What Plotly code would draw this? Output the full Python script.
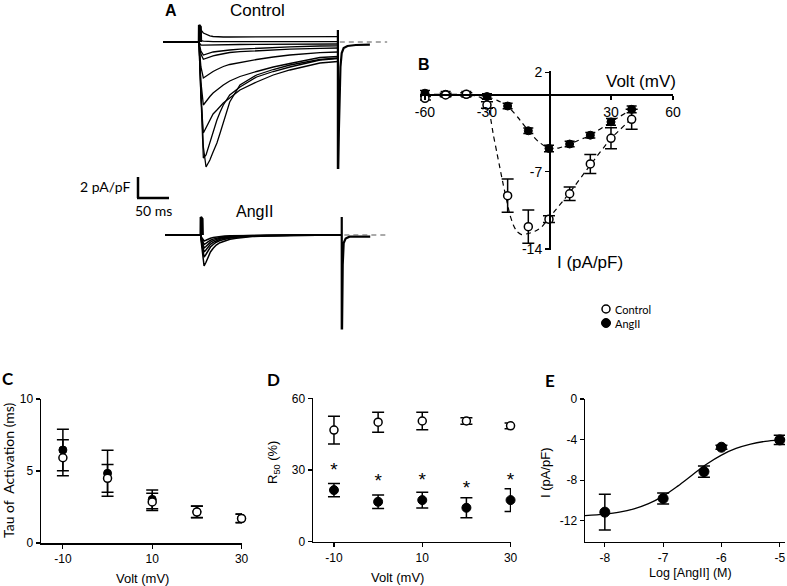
import plotly.graph_objects as go

W, H = 787, 586
ARIAL = "Liberation Sans, Arial, sans-serif"
CAL = "Lato, Carlito, Calibri, sans-serif"

# ---------------- Panel A: whole-cell current traces (ms, pA/pF) ----------------
ctrl_t = [-56, 0, 1, 3, 6.8, 11, 17, 22, 28, 33, 38, 48, 64, 90, 116, 142, 189, 217]
ctrl_traces = [
    [0, 0, 1.5, 1.2, 0.9, 0.75, 0.62, 0.55, 0.52, 0.5, 0.5, 0.5, 0.5, 0.5, 0.5, 0.52, 0.53, 0.53],
    [0, 0, 0.3, 0.15, 0.08, 0.05, 0.04, 0.03, 0.03, 0.03, 0.03, 0.03, 0.03, 0.03, 0.03, 0.03, 0.03, 0.03],
    [0, 0, -0.15, -0.3, -0.32, -0.32, -0.3, -0.3, -0.29, -0.28, -0.27, -0.26, -0.25, -0.23, -0.22, -0.21, -0.2, -0.2],
    [0, 0, -0.4, -0.9, -1.3, -1.2, -1.08, -1.0, -0.95, -0.9, -0.87, -0.8, -0.72, -0.63, -0.55, -0.48, -0.4, -0.38],
    [0, 0, -0.5, -1.2, -1.73, -1.62, -1.48, -1.38, -1.3, -1.22, -1.15, -1.05, -0.97, -0.87, -0.78, -0.72, -0.63, -0.6],
    [0, 0, -1.0, -2.5, -3.6, -3.4, -3.15, -2.95, -2.75, -2.6, -2.45, -2.25, -2.05, -1.75, -1.5, -1.3, -1.07, -1.0],
    [0, 0, -1.5, -4.0, -6.3, -5.9, -5.45, -5.1, -4.8, -4.5, -4.3, -3.9, -3.45, -2.95, -2.5, -2.15, -1.55, -1.45],
    [0, 0, -2.0, -5.5, -9.1, -8.6, -7.8, -7.2, -6.8, -6.4, -6.1, -5.6, -4.8, -4.0, -3.3, -2.8, -2.1, -1.95],
    [0, 0, -2.0, -6.0, -11.6, -11.3, -10.1, -8.9, -7.8, -7.0, -6.3, -5.3, -4.5, -3.5, -2.95, -2.5, -1.8, -1.65],
    [0, 0, -1.5, -5.0, -10.5, -12.5, -11.8, -11.0, -10.1, -9.1, -8.0, -6.0, -4.3, -3.3, -2.75, -2.3, -1.75, -1.6],
]
ctrl_on_t = [0, 0.2, 2.5, 3]
ctrl_on_v = [0, 1.7, 1.5, 0]
ctrl_off_t = [217, 217, 217.6, 218.5, 219.5, 221, 223, 226, 232, 245, 267]
ctrl_off_v = [1.2, -12.6, -12.6, -9, -5, -2.5, -1.1, -0.6, -0.4, -0.3, -0.27]
ctrl_ref_t = [220, 294]
ctrl_ref_v = [0, 0]

ang_t = [-55, 0, 1, 3, 5.2, 8, 11.5, 15, 19.3, 24, 29.7, 37, 45.3, 55, 66, 80, 102.6, 140, 218]
ang_traces = [
    [0, 0, -0.8, -2.2, -3.1, -2.75, -2.17, -1.7, -1.33, -1.0, -0.77, -0.58, -0.43, -0.32, -0.23, -0.16, -0.1, -0.04, 0],
    [0, 0, -0.6, -1.6, -2.2, -1.95, -1.55, -1.2, -0.95, -0.72, -0.55, -0.41, -0.31, -0.23, -0.16, -0.11, -0.07, -0.03, 0],
    [0, 0, -0.5, -1.25, -1.7, -1.5, -1.2, -0.93, -0.73, -0.56, -0.42, -0.32, -0.24, -0.18, -0.13, -0.09, -0.05, -0.02, 0],
    [0, 0, -0.4, -0.95, -1.3, -1.15, -0.92, -0.71, -0.56, -0.43, -0.33, -0.25, -0.18, -0.14, -0.1, -0.07, -0.04, -0.02, 0],
    [0, 0, -0.3, -0.7, -0.95, -0.84, -0.67, -0.52, -0.41, -0.31, -0.24, -0.18, -0.13, -0.1, -0.07, -0.05, -0.03, -0.01, 0],
    [0, 0, -0.2, -0.45, -0.6, -0.53, -0.42, -0.33, -0.26, -0.2, -0.15, -0.11, -0.08, -0.06, -0.05, -0.03, -0.02, -0.01, 0],
]
ang_on_t = [0, 0.2, 2.5, 3]
ang_on_v = [0, 1.8, 1.6, 0]
ang_off_t = [218, 218, 218.5, 219.5, 221, 224, 230, 262]
ang_off_v = [1.8, -9.33, -9.33, -3, -0.8, -0.35, -0.17, -0.17]
ang_ref_t = [222, 288]
ang_ref_v = [0, 0]

# ---------------- Panel B: I-V relationship ----------------
iv_volt = [-60, -50, -40, -30, -20, -10, 0, 10, 20, 30, 40]
iv_ctrl = [-0.36, -0.06, 0.0, -0.97, -9.17, -11.98, -11.3, -9.0, -6.3, -3.98, -2.26]
iv_ctrl_err = [0.15, 0.15, 0.15, 0.3, 1.5, 1.5, 0.3, 0.6, 0.86, 0.95, 0.9]
iv_ang = [0.1, 0.0, 0.0, -0.2, -1.06, -3.3, -4.9, -4.5, -3.7, -2.5, -1.36]
iv_ang_err = [0.25, 0.25, 0.25, 0.25, 0.25, 0.25, 0.3, 0.25, 0.25, 0.3, 0.3]
fit_ctrl_v = [-60, -50, -40, -35, -33, -31, -29.4, -28.5, -26.9, -25.3, -23.7, -22.1, -20.5,
              -18.9, -17.3, -15.6, -13.2, -10, -6.8, -3.5, 0, 10, 20, 30, 40]
fit_ctrl_i = [-0.05, -0.05, -0.05, -0.15, -0.3, -0.6, -0.97, -1.87, -3.68, -5.19, -6.7, -8.2, -9.57,
              -10.9, -11.8, -12.4, -12.7, -12.6, -12.4, -12.0, -11.2, -8.9, -6.4, -4.0, -2.2]
fit_ang_v = [-60, -40, -35, -30, -25, -20, -15, -10, -5, 0, 5, 10, 20, 30, 40]
fit_ang_i = [0, 0, -0.05, -0.2, -0.55, -1.06, -2.1, -3.3, -4.3, -4.9, -4.85, -4.5, -3.7, -2.5, -1.36]
b_xticks = [-60, -30, 30, 60]
b_xtick_text = ["-60", "-30", "30", "60"]
b_yticks = [2, -7, -14]
b_ytick_text = ["2", "-7", "-14"]

# ---------------- Panel C: tau of activation ----------------
c_volt = [-10, 0, 10, 20, 30]
c_ctrl = [5.92, 4.49, 2.85, 2.15, 1.7]
c_ctrl_err = [1.25, 0.97, 0.6, 0.4, 0.3]
c_ang = [6.46, 4.84, 3.03, 2.17, 1.72]
c_ang_err = [1.44, 1.6, 0.65, 0.4, 0.3]
cd_xticks = [-10, 10, 30]
cd_xtick_text = ["-10", "10", "30"]

# ---------------- Panel D: R50 ----------------
d_volt = [-10, 0, 10, 20, 30]
d_ctrl = [46.7, 50.0, 50.5, 50.5, 48.5]
d_ctrl_err = [5.8, 4.2, 3.7, 1.4, 1.2]
d_ang = [21.6, 16.7, 17.4, 14.2, 17.4]
d_ang_err = [2.8, 2.8, 3.3, 4.2, 4.8]
d_star = [29.5, 24.9, 25.1, 22.0, 25.3]

# ---------------- Panel E: dose response ----------------
e_logc = [-8, -7, -6.3, -6, -5]
e_i = [-11.14, -9.8, -7.15, -4.75, -4.03]
e_err = [1.75, 0.55, 0.55, 0.2, 0.45]
e_fit_x = [-8.34, -8.0, -7.75, -7.5, -7.25, -7.0, -6.75, -6.5, -6.25, -6.0, -5.75, -5.5, -5.25, -5.0, -4.91]
e_fit_y = [-11.48, -11.33, -11.14, -10.81, -10.30, -9.56, -8.58, -7.48, -6.40, -5.52, -4.87, -4.44, -4.17, -4.01, -3.97]
e_xticks = [-8, -7, -6, -5]
e_xtick_text = ["-8", "-7", "-6", "-5"]
e_yticks = [0, -4, -8, -12]
e_ytick_text = ["0", "-4", "-8", "-12"]


def px(x):
    return x / W


def py(y):
    return 1 - y / H


fig = go.Figure()

# Panel A traces
for v in ctrl_traces:
    fig.add_trace(go.Scatter(x=ctrl_t, y=v, mode="lines", line=dict(color="black", width=1.3),
                             xaxis="x", yaxis="y", cliponaxis=False))
fig.add_trace(go.Scatter(x=ctrl_on_t, y=ctrl_on_v, mode="lines", line=dict(color="black", width=2.5),
                         xaxis="x", yaxis="y", cliponaxis=False))
fig.add_trace(go.Scatter(x=ctrl_off_t, y=ctrl_off_v, mode="lines", line=dict(color="black", width=2.2),
                         xaxis="x", yaxis="y", cliponaxis=False))
fig.add_trace(go.Scatter(x=ctrl_ref_t, y=ctrl_ref_v, mode="lines",
                         line=dict(color="#555555", width=1, dash="5px,4px"), xaxis="x", yaxis="y"))
for v in ang_traces:
    fig.add_trace(go.Scatter(x=ang_t, y=v, mode="lines", line=dict(color="black", width=1.5),
                             xaxis="x2", yaxis="y2", cliponaxis=False))
fig.add_trace(go.Scatter(x=ang_on_t, y=ang_on_v, mode="lines", line=dict(color="black", width=2.5),
                         xaxis="x2", yaxis="y2", cliponaxis=False))
fig.add_trace(go.Scatter(x=ang_off_t, y=ang_off_v, mode="lines", line=dict(color="black", width=2.2),
                         xaxis="x2", yaxis="y2", cliponaxis=False))
fig.add_trace(go.Scatter(x=ang_ref_t, y=ang_ref_v, mode="lines",
                         line=dict(color="#555555", width=1, dash="5px,4px"), xaxis="x2", yaxis="y2"))

# Panel B
fig.add_trace(go.Scatter(x=fit_ctrl_v, y=fit_ctrl_i, mode="lines", line_shape="spline",
                         line=dict(color="black", width=1.2, dash="5px,4px", smoothing=0.5),
                         xaxis="x3", yaxis="y3", cliponaxis=False))
fig.add_trace(go.Scatter(x=fit_ang_v, y=fit_ang_i, mode="lines", line_shape="spline",
                         line=dict(color="black", width=1.2, dash="5px,4px", smoothing=0.5),
                         xaxis="x3", yaxis="y3", cliponaxis=False))
fig.add_trace(go.Scatter(x=iv_volt, y=iv_ang, mode="markers", cliponaxis=False,
                         marker=dict(symbol="circle", size=8, color="black", line=dict(color="black", width=1)),
                         error_y=dict(type="data", array=iv_ang_err, color="black", thickness=1.5, width=5),
                         xaxis="x3", yaxis="y3"))
fig.add_trace(go.Scatter(x=iv_volt, y=iv_ctrl, mode="markers", cliponaxis=False,
                         marker=dict(symbol="circle", size=8, color="white", line=dict(color="black", width=1.5)),
                         error_y=dict(type="data", array=iv_ctrl_err, color="black", thickness=1.5, width=6),
                         xaxis="x3", yaxis="y3"))

# Panel C
fig.add_trace(go.Scatter(x=c_volt, y=c_ang, mode="markers", cliponaxis=False,
                         marker=dict(size=8, color="black", line=dict(color="black", width=1)),
                         error_y=dict(type="data", array=c_ang_err, color="black", thickness=1.5, width=6),
                         xaxis="x4", yaxis="y4"))
fig.add_trace(go.Scatter(x=c_volt, y=c_ctrl, mode="markers", cliponaxis=False,
                         marker=dict(size=8, color="white", line=dict(color="black", width=1.5)),
                         error_y=dict(type="data", array=c_ctrl_err, color="black", thickness=1.5, width=6),
                         xaxis="x4", yaxis="y4"))

# Panel D
fig.add_trace(go.Scatter(x=d_volt, y=d_ang, mode="markers", cliponaxis=False,
                         marker=dict(size=9, color="black", line=dict(color="black", width=1)),
                         error_y=dict(type="data", array=d_ang_err, color="black", thickness=1.5, width=6),
                         xaxis="x5", yaxis="y5"))
fig.add_trace(go.Scatter(x=d_volt, y=d_ctrl, mode="markers", cliponaxis=False,
                         marker=dict(size=8, color="white", line=dict(color="black", width=1.5)),
                         error_y=dict(type="data", array=d_ctrl_err, color="black", thickness=1.5, width=6),
                         xaxis="x5", yaxis="y5"))
fig.add_trace(go.Scatter(x=d_volt, y=d_star, mode="text", text=["*"] * len(d_volt), cliponaxis=False,
                         textfont=dict(family=ARIAL, size=19, color="black"),
                         xaxis="x5", yaxis="y5"))

# Panel E
fig.add_trace(go.Scatter(x=e_fit_x, y=e_fit_y, mode="lines", line_shape="spline", cliponaxis=False,
                         line=dict(color="black", width=1.3), xaxis="x6", yaxis="y6"))
fig.add_trace(go.Scatter(x=e_logc, y=e_i, mode="markers", cliponaxis=False,
                         marker=dict(size=10, color="black", line=dict(color="black", width=1)),
                         error_y=dict(type="data", array=e_err, color="black", thickness=1.5, width=6),
                         xaxis="x6", yaxis="y6"))

hidden = dict(visible=False, showgrid=False, zeroline=False, automargin=False)
axline = dict(showline=True, linecolor="black", linewidth=1.5, showgrid=False, zeroline=False,
              ticks="outside", ticklen=4, tickwidth=1.2, tickcolor="black", automargin=False,
              tickmode="array")
f14 = dict(family=ARIAL, size=14, color="black")
f12 = dict(family=ARIAL, size=12, color="black")

layout = dict(
    template="none",
    width=W, height=H, margin=dict(l=0, r=0, t=0, b=0, pad=0, autoexpand=False),
    paper_bgcolor="white", plot_bgcolor="rgba(0,0,0,0)", showlegend=False, hovermode=False,
    xaxis=dict(hidden, domain=[px(160.6), px(391)], range=[-60, 300], anchor="y"),
    yaxis=dict(hidden, domain=[py(172), py(20)], range=[-13, 2.2], anchor="x"),
    xaxis2=dict(hidden, domain=[px(161.9), px(394.8)], range=[-60, 300], anchor="y2"),
    yaxis2=dict(hidden, domain=[py(335), py(210)], range=[-10, 2.5], anchor="x2"),
    xaxis3=dict(axline, domain=[px(420), px(673)], range=[-62.4, 60], anchor="free", position=py(94.3),
                tickvals=b_xticks, ticktext=b_xtick_text, tickfont=f14),
    yaxis3=dict(axline, domain=[py(250.1), py(71.1)], range=[-14.1, 2.1], anchor="free", position=px(549),
                tickvals=b_yticks, ticktext=b_ytick_text, tickfont=f14),
    xaxis4=dict(axline, domain=[px(41), px(242)], range=[-14.9, 30.1], anchor="y4",
                tickvals=cd_xticks, ticktext=cd_xtick_text, tickfont=f12),
    yaxis4=dict(axline, domain=[py(543), py(399)], range=[0, 10], anchor="x4",
                tickvals=[0, 5, 10], ticktext=["0", "5", "10"], tickfont=f12),
    xaxis5=dict(axline, domain=[px(313), px(511)], range=[-14.75, 30.1], anchor="y5",
                tickvals=cd_xticks, ticktext=cd_xtick_text, tickfont=f12),
    yaxis5=dict(axline, domain=[py(541.7), py(398.3)], range=[0, 60], anchor="x5",
                tickvals=[0, 30, 60], ticktext=["0", "30", "60"], tickfont=f12),
    xaxis6=dict(axline, domain=[px(585), px(785)], range=[-8.34, -4.91], anchor="y6",
                tickvals=e_xticks, ticktext=e_xtick_text, tickfont=f12),
    yaxis6=dict(axline, domain=[py(541.7), py(399)], range=[-14.05, 0], anchor="x6",
                tickvals=e_yticks, ticktext=e_ytick_text, tickfont=f12),
)


def ann(text, x, y, size, family=ARIAL, xanchor="center", angle=0, bold=False):
    if bold:
        text = "<b>" + text + "</b>"
    return dict(text=text, x=px(x), y=py(y), xref="paper", yref="paper", showarrow=False,
                xanchor=xanchor, yanchor="middle", textangle=angle,
                font=dict(family=family, size=size, color="black"))


annotations = [
    ann("A", 171, 11, 16, bold=True),
    ann("Control", 257, 11, 17),
    ann("AngII", 255, 211, 16),
    ann("2 pA/pF", 132, 187, 14, family=CAL, xanchor="right"),
    ann("50 ms", 153, 210, 14, family=CAL),
    ann("B", 424, 65, 16, bold=True),
    ann("Volt (mV)", 641, 82, 17),
    ann("I (pA/pF)", 590, 262, 17),
    ann("Control", 613, 309, 11, family=CAL, xanchor="left"),
    ann("AngII", 613, 323, 11, family=CAL, xanchor="left"),
    ann("C", 8, 378, 17, family=CAL, bold=True),
    ann("D", 273, 379, 17, family=CAL, bold=True),
    ann("E", 550, 380, 17, family=CAL, bold=True),
    ann("Tau of  Activation (ms)", 8, 470, 14, family=CAL, angle=-90),
    ann("Volt (mV)", 142, 578, 13),
    ann("R<sub>50</sub> (%)", 273, 463, 13, angle=-90),
    ann("Volt (mV)", 398, 577, 13),
    ann("I (pA/pF)", 545, 473, 13, angle=-90),
    ann("Log [AngII] (M)", 690, 573, 12.5),
]

shapes = [
    dict(type="line", xref="paper", yref="paper", x0=px(138), x1=px(138), y0=py(177), y1=py(198),
         line=dict(color="black", width=2.5)),
    dict(type="line", xref="paper", yref="paper", x0=px(137), x1=px(169), y0=py(198), y1=py(198),
         line=dict(color="black", width=2.5)),
    dict(type="circle", xref="paper", yref="paper", xsizemode="pixel", ysizemode="pixel",
         xanchor=px(606), yanchor=py(309), x0=-4, x1=4, y0=-4, y1=4,
         line=dict(color="black", width=1.5), fillcolor="white"),
    dict(type="circle", xref="paper", yref="paper", xsizemode="pixel", ysizemode="pixel",
         xanchor=px(606), yanchor=py(323), x0=-4.5, x1=4.5, y0=-4.5, y1=4.5,
         line=dict(color="black", width=1), fillcolor="black"),
]

fig.update_layout(**layout, annotations=annotations, shapes=shapes)
fig.write_html("out.html", config={"displayModeBar": False, "staticPlot": True},
               post_script="document.body.style.margin='0px';document.body.style.overflow='hidden';")
